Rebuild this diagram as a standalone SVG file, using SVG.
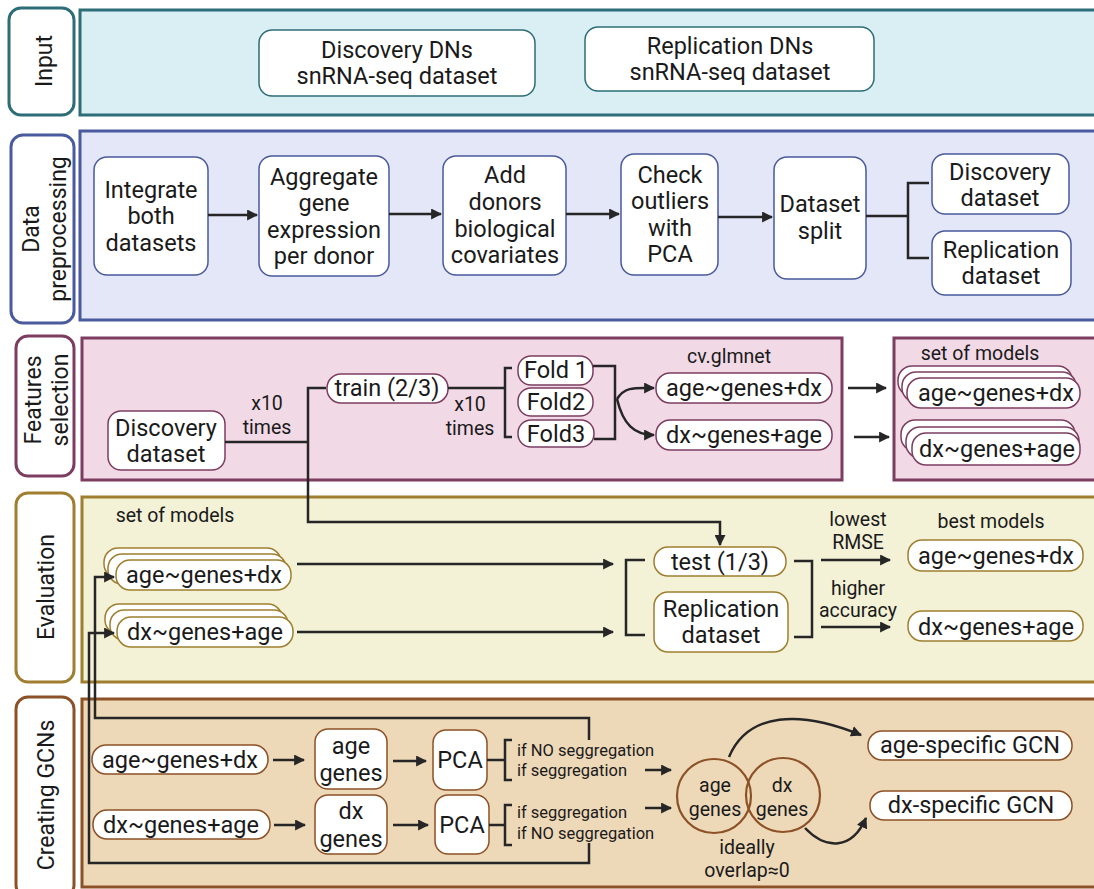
<svg xmlns="http://www.w3.org/2000/svg" width="1094" height="889" viewBox="0 0 1094 889">
<style>
text{font-family:Roboto,"Liberation Sans",sans-serif;fill:#1a1a1a;text-anchor:middle;dominant-baseline:central}
.t{font-size:23.5px}
.s{font-size:19.5px}
.v{font-size:19.5px}
.xs{font-size:16.5px}
.lbl{font-size:23px}
.c{fill:none;stroke:#262626;stroke-width:2.5}
.teal{stroke:#2d6d78}
.blue{stroke:#4a5a9e}
.pink{stroke:#7c3d61}
.gold{stroke:#9f7f2f}
.brown{stroke:#8c5126}
.sec{stroke-width:3}
.lab{fill:#fff;stroke-width:3}
.n{fill:#fff;stroke-width:1.5}
</style>
<defs>
<marker id="ah" viewBox="0 0 10 10" refX="9" refY="5" markerWidth="11" markerHeight="11" markerUnits="userSpaceOnUse" orient="auto"><path d="M0,0 L10,5 L0,10 z" fill="#262626"/></marker>
<linearGradient id="g1" gradientUnits="userSpaceOnUse" x1="297" y1="0" x2="460" y2="0"><stop offset="0" stop-color="#262626" stop-opacity="0.1"/><stop offset="1" stop-color="#262626"/></linearGradient>
<linearGradient id="g2" gradientUnits="userSpaceOnUse" x1="818" y1="0" x2="860" y2="0"><stop offset="0" stop-color="#262626" stop-opacity="0.15"/><stop offset="1" stop-color="#262626"/></linearGradient>
<linearGradient id="g3" gradientUnits="userSpaceOnUse" x1="845" y1="0" x2="870" y2="0"><stop offset="0" stop-color="#262626" stop-opacity="0.3"/><stop offset="1" stop-color="#262626"/></linearGradient>
<linearGradient id="g4" gradientUnits="userSpaceOnUse" x1="729" y1="757" x2="800" y2="715"><stop offset="0" stop-color="#262626" stop-opacity="0.05"/><stop offset="1" stop-color="#262626"/></linearGradient>
<linearGradient id="g5" gradientUnits="userSpaceOnUse" x1="805" y1="828" x2="835" y2="845"><stop offset="0" stop-color="#262626" stop-opacity="0.05"/><stop offset="1" stop-color="#262626"/></linearGradient>
<linearGradient id="g6" gradientUnits="userSpaceOnUse" x1="617" y1="0" x2="640" y2="0"><stop offset="0" stop-color="#262626" stop-opacity="0.15"/><stop offset="1" stop-color="#262626"/></linearGradient>
</defs>

<!-- Section backgrounds -->
<g id="sec-input">
<rect x="9" y="8" width="65" height="107" rx="12" class="lab teal"/>
<text class="lbl" transform="rotate(-90 44 61)" x="44" y="61">Input</text>
<rect x="80" y="10" width="1020" height="105" fill="#d9eff4" class="sec teal"/>
</g>
<g id="sec-prep">
<rect x="11" y="135" width="63" height="188" rx="12" class="lab blue"/>
<text class="lbl" transform="rotate(-90 31 229)" x="31" y="229">Data</text>
<text class="lbl" transform="rotate(-90 58 229)" x="58" y="229">preprocessing</text>
<rect x="80" y="131" width="1020" height="189" fill="#e3e7f7" class="sec blue"/>
</g>
<g id="sec-feat">
<rect x="16" y="336" width="58" height="140" rx="12" class="lab pink"/>
<text class="lbl" transform="rotate(-90 33 400)" x="33" y="400">Features</text>
<text class="lbl" transform="rotate(-90 60 400)" x="60" y="400">selection</text>
<rect x="82" y="338" width="760" height="142" fill="#f2d9e6" class="sec pink"/>
<rect x="894" y="338" width="210" height="142" fill="#f2d9e6" class="sec pink"/>
</g>
<g id="sec-eval">
<rect x="16" y="493" width="58" height="189" rx="12" class="lab gold"/>
<text class="lbl" transform="rotate(-90 46 587)" x="46" y="587">Evaluation</text>
<rect x="82" y="497" width="1020" height="185" fill="#f3f1d6" class="sec gold"/>
</g>
<g id="sec-gcn">
<rect x="16" y="697" width="58" height="200" rx="12" class="lab brown"/>
<text class="lbl" transform="rotate(-90 46 795)" x="46" y="795">Creating GCNs</text>
<rect x="82" y="699" width="1020" height="188" fill="#edd8b8" class="sec brown"/>
</g>

<!-- Input nodes -->
<g id="n-discdns"><rect x="259" y="30" width="276" height="66" rx="13" class="n teal"/><text class="t" x="397" y="50">Discovery DNs</text><text class="t" x="397" y="76">snRNA-seq dataset</text></g>
<g id="n-repdns"><rect x="585" y="27" width="289" height="64" rx="13" class="n teal"/><text class="t" x="730" y="46">Replication DNs</text><text class="t" x="730" y="72">snRNA-seq dataset</text></g>

<!-- Preprocessing nodes -->
<g id="n-integrate"><rect x="94" y="157" width="114" height="118" rx="13" class="n blue"/><text class="t" x="151" y="190">Integrate</text><text class="t" x="151" y="216">both</text><text class="t" x="151" y="243">datasets</text></g>
<g id="n-aggregate"><rect x="259" y="156" width="130" height="120" rx="13" class="n blue"/><text class="t" x="324" y="177">Aggregate</text><text class="t" x="324" y="203">gene</text><text class="t" x="324" y="230">expression</text><text class="t" x="324" y="256">per donor</text></g>
<g id="n-add"><rect x="443" y="156" width="123" height="119" rx="13" class="n blue"/><text class="t" x="505" y="175">Add</text><text class="t" x="505" y="202">donors</text><text class="t" x="505" y="229">biological</text><text class="t" x="505" y="255">covariates</text></g>
<g id="n-check"><rect x="621" y="154" width="97" height="121" rx="13" class="n blue"/><text class="t" x="670" y="175">Check</text><text class="t" x="670" y="201">outliers</text><text class="t" x="670" y="228">with</text><text class="t" x="670" y="254">PCA</text></g>
<g id="n-split"><rect x="774" y="157" width="92" height="122" rx="13" class="n blue"/><text class="t" x="820" y="204">Dataset</text><text class="t" x="820" y="231">split</text></g>
<g id="n-discds"><rect x="932" y="154" width="137" height="60" rx="13" class="n blue"/><text class="t" x="1000" y="172">Discovery</text><text class="t" x="1000" y="198">dataset</text></g>
<g id="n-repds"><rect x="932" y="231" width="139" height="64" rx="13" class="n blue"/><text class="t" x="1001" y="250">Replication</text><text class="t" x="1001" y="276">dataset</text></g>

<!-- Features nodes -->
<g id="n-fdisc"><rect x="108" y="411" width="117" height="59" rx="13" class="n pink"/><text class="t" x="166" y="428">Discovery</text><text class="t" x="166" y="454">dataset</text></g>
<g id="n-train"><rect x="327" y="374" width="121" height="29" rx="14" class="n pink"/><text class="t" x="387" y="388">train (2/3)</text></g>
<g id="n-fold1"><rect x="518" y="356" width="75" height="29" rx="13" class="n pink"/><text class="t" x="556" y="370">Fold 1</text></g>
<g id="n-fold2"><rect x="518" y="388" width="75" height="28" rx="13" class="n pink"/><text class="t" x="556" y="402">Fold2</text></g>
<g id="n-fold3"><rect x="518" y="420" width="76" height="27" rx="13" class="n pink"/><text class="t" x="556" y="434">Fold3</text></g>
<g id="n-fage"><rect x="656" y="373" width="176" height="30" rx="14" class="n pink"/><text class="t" x="744" y="388">age~genes+dx</text></g>
<g id="n-fdx"><rect x="656" y="420" width="176" height="30" rx="14" class="n pink"/><text class="t" x="744" y="435">dx~genes+age</text></g>
<g id="n-setage">
<rect x="898" y="366" width="174" height="30" rx="14" class="n pink"/>
<rect x="902" y="372" width="174" height="30" rx="14" class="n pink"/>
<rect x="907" y="378" width="173" height="30" rx="14" class="n pink"/>
<text class="t" x="996" y="393">age~genes+dx</text></g>
<g id="n-setdx">
<rect x="901" y="420" width="174" height="31" rx="14" class="n pink"/>
<rect x="906" y="427" width="173" height="31" rx="14" class="n pink"/>
<rect x="912" y="433" width="168" height="32" rx="14" class="n pink"/>
<text class="t" x="997" y="449">dx~genes+age</text></g>

<!-- Evaluation nodes -->
<g id="n-eage">
<rect x="104" y="548" width="177" height="30" rx="14" class="n gold"/>
<rect x="108" y="554" width="178" height="30" rx="14" class="n gold"/>
<rect x="116" y="560" width="175" height="30" rx="14" class="n gold"/>
<text class="t" x="204" y="575">age~genes+dx</text></g>
<g id="n-edx">
<rect x="105" y="604" width="177" height="30" rx="14" class="n gold"/>
<rect x="110" y="610" width="178" height="30" rx="14" class="n gold"/>
<rect x="117" y="617" width="176" height="30" rx="14" class="n gold"/>
<text class="t" x="205" y="632">dx~genes+age</text></g>
<g id="n-test"><rect x="654" y="547" width="132" height="29" rx="14" class="n gold"/><text class="t" x="720" y="562">test (1/3)</text></g>
<g id="n-erep"><rect x="654" y="592" width="134" height="60" rx="14" class="n gold"/><text class="t" x="721" y="609">Replication</text><text class="t" x="721" y="635">dataset</text></g>
<g id="n-bestage"><rect x="908" y="540" width="175" height="31" rx="14" class="n gold"/><text class="t" x="996" y="556">age~genes+dx</text></g>
<g id="n-bestdx"><rect x="908" y="611" width="175" height="30" rx="14" class="n gold"/><text class="t" x="996" y="627">dx~genes+age</text></g>

<!-- GCN nodes -->
<g id="n-gage"><rect x="92" y="745" width="176" height="29" rx="14" class="n brown"/><text class="t" x="180" y="760">age~genes+dx</text></g>
<g id="n-gdx"><rect x="93" y="810" width="177" height="29" rx="14" class="n brown"/><text class="t" x="181" y="825">dx~genes+age</text></g>
<g id="n-agegenes"><rect x="315" y="729" width="72" height="60" rx="13" class="n brown"/><text class="t" x="351" y="746">age</text><text class="t" x="351" y="773">genes</text></g>
<g id="n-dxgenes"><rect x="315" y="795" width="72" height="59" rx="13" class="n brown"/><text class="t" x="351" y="811">dx</text><text class="t" x="351" y="839">genes</text></g>
<g id="n-pca1"><rect x="433" y="730" width="54" height="60" rx="13" class="n brown"/><text class="t" x="460" y="760">PCA</text></g>
<g id="n-pca2"><rect x="435" y="795" width="54" height="59" rx="13" class="n brown"/><text class="t" x="462" y="825">PCA</text></g>
<g id="n-venn">
<circle cx="714" cy="796" r="37" fill="none" stroke="#8c5126" stroke-width="2.2"/>
<circle cx="783" cy="795" r="37" fill="none" stroke="#8c5126" stroke-width="2.2"/>
<text class="v" x="715" y="785">age</text><text class="v" x="715" y="809">genes</text>
<text class="v" x="782" y="785">dx</text><text class="v" x="782" y="809">genes</text>
</g>
<g id="n-agegcn"><rect x="868" y="731" width="204" height="29" rx="14" class="n brown"/><text class="t" x="970" y="745">age-specific GCN</text></g>
<g id="n-dxgcn"><rect x="870" y="791" width="202" height="29" rx="14" class="n brown"/><text class="t" x="971" y="805">dx-specific GCN</text></g>

<!-- Free labels -->
<g id="labels">
<text class="s" x="267" y="403">x10</text><text class="s" x="267" y="427">times</text>
<text class="s" x="470" y="404">x10</text><text class="s" x="470" y="428">times</text>
<text class="s" x="729" y="356">cv.glmnet</text>
<text class="s" x="980" y="353">set of models</text>
<text class="s" x="175" y="515">set of models</text>
<text class="s" x="858" y="519">lowest</text><text class="s" x="858" y="542">RMSE</text>
<text class="s" x="858" y="588">higher</text><text class="s" x="858" y="610">accuracy</text>
<text class="s" x="991" y="521">best models</text>
<text class="xs" x="517" y="750" style="text-anchor:start">if NO seggregation</text>
<text class="xs" x="517" y="770" style="text-anchor:start">if seggregation</text>
<text class="xs" x="517" y="812" style="text-anchor:start">if seggregation</text>
<text class="xs" x="517" y="833" style="text-anchor:start">if NO seggregation</text>
<text class="v" x="747" y="847">ideally</text><text class="v" x="747" y="870">overlap≈0</text>
</g>

<!-- Connectors -->
<g id="connectors">
<path class="c" d="M208,215 H257" marker-end="url(#ah)"/>
<path class="c" d="M389,214 H441" marker-end="url(#ah)"/>
<path class="c" d="M566,214 H619" marker-end="url(#ah)"/>
<path class="c" d="M718,217 H772" marker-end="url(#ah)"/>
<path class="c" d="M866,216 H908 M929,183 H908 V258 H929"/>

<path class="c" d="M225,442 H308 M326,388 H308 V522 H720 V545" marker-end="url(#ah)"/>
<path class="c" d="M448,388 H505 M512,368 H505 V437 H512"/>
<path class="c" d="M593,366 H615 V439 H594"/>
<path class="c" stroke="url(#g6)" d="M617,399 C625,386 636,388 654,388" marker-end="url(#ah)"/>
<path class="c" stroke="url(#g6)" d="M617,399 C623,424 634,435 654,435" marker-end="url(#ah)"/>
<path class="c" stroke="url(#g3)" d="M848,388 H886" marker-end="url(#ah)"/>
<path class="c" stroke="url(#g3)" d="M854,437 H889" marker-end="url(#ah)"/>

<path class="c" stroke="url(#g1)" d="M297,564 H613" marker-end="url(#ah)"/>
<path class="c" stroke="url(#g1)" d="M297,632 H613" marker-end="url(#ah)"/>
<path class="c" d="M645,560 H626 V635 H645"/>
<path class="c" d="M794,561 H812 V637 H794"/>
<path class="c" stroke="url(#g2)" d="M821,560 H890" marker-end="url(#ah)"/>
<path class="c" stroke="url(#g2)" d="M821,627 H890" marker-end="url(#ah)"/>

<path class="c" d="M589,740 V718 H95 V577 H114" marker-end="url(#ah)"/>
<path class="c" d="M589,843 V863 H89 V633 H114" marker-end="url(#ah)"/>
<path class="c" d="M273,760 H304" marker-end="url(#ah)"/>
<path class="c" d="M274,825 H305" marker-end="url(#ah)"/>
<path class="c" d="M393,761 H426" marker-end="url(#ah)"/>
<path class="c" d="M393,825 H428" marker-end="url(#ah)"/>
<path class="c" d="M487,760 H505 M512,740 H505 V780 H512"/>
<path class="c" d="M489,825 H505 M512,805 H505 V845 H512"/>
<path class="c" d="M645,770 H671" marker-end="url(#ah)"/>
<path class="c" d="M645,808 H671" marker-end="url(#ah)"/>
<path class="c" stroke="url(#g4)" d="M729,757 C748,712 800,710 861,735" marker-end="url(#ah)"/>
<path class="c" stroke="url(#g5)" d="M805,828 C826,850 852,850 866,818" marker-end="url(#ah)"/>
</g>
</svg>
